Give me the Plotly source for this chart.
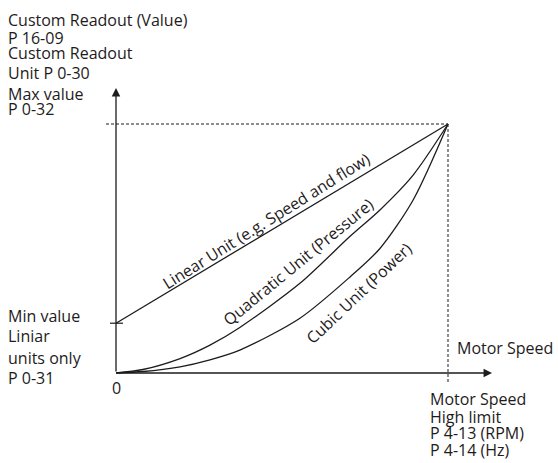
import plotly.graph_objects as go

W, H = 558, 463
# pixel frame of the diagram (origin and the max point)
X0, Y0, X1, Y1 = 116, 373, 448, 124

# ---- data (normalised speed -> normalised readout) ----
linear_x = [0.0, 1.0]
linear_y = [0.2, 1.0]

speed = [0.0, 0.081, 0.193, 0.283, 0.373, 0.554, 0.705, 0.795, 0.895, 1.0]
quadratic = [0.0, 0.014, 0.058, 0.112, 0.183, 0.360, 0.549, 0.655, 0.795, 1.0]
cubic = [0.0, 0.006, 0.025, 0.053, 0.092, 0.220, 0.386, 0.500, 0.695, 1.0]

curve_labels = ["Linear Unit (e.g. Speed and flow)", "Quadratic Unit (Pressure)", "Cubic Unit (Power)"]
top_left_lines = ["Custom Readout (Value)", "P 16-09", "Custom Readout", "Unit P 0-30", "Max value", "P 0-32"]
bottom_left_lines = ["Min value", "Liniar", "units only", "P 0-31"]
bottom_right_lines = ["Motor Speed", "High limit", "P 4-13 (RPM)", "P 4-14 (Hz)"]
x_axis_label = "Motor Speed"
origin_label = "0"

SX = X1 - X0
SY = Y0 - Y1


def dx(px):
    return (px - X0) / SX


def dy(py):
    return (Y0 - py) / SY


INK = "#1e1b1c"
FONT = "Open Sans"
FS = 16

fig = go.Figure()
fig.add_trace(go.Scatter(x=linear_x, y=linear_y, mode="lines", line=dict(color=INK, width=1.3), hoverinfo="skip"))
fig.add_trace(go.Scatter(x=speed, y=quadratic, mode="lines", line=dict(color=INK, width=1.3, shape="spline", smoothing=0.8), hoverinfo="skip"))
fig.add_trace(go.Scatter(x=speed, y=cubic, mode="lines", line=dict(color=INK, width=1.3, shape="spline", smoothing=0.8), hoverinfo="skip"))

shapes = [
    dict(type="line", xref="x", yref="y", x0=dx(106), x1=1, y0=1, y1=1,
         line=dict(color=INK, width=1, dash="3px,2px")),
    dict(type="line", xref="x", yref="y", x0=1, x1=1, y0=1, y1=dy(384),
         line=dict(color=INK, width=1, dash="3px,2px")),
    dict(type="line", xref="x", yref="y", x0=dx(110), x1=dx(123), y0=linear_y[0], y1=linear_y[0],
         line=dict(color=INK, width=1.2)),
]

ann = []
# axes arrows
ann.append(dict(x=0, y=dy(88), ax=0, ay=0, xref="x", yref="y", axref="x", ayref="y",
                showarrow=True, arrowhead=2, arrowsize=1.3, arrowwidth=1.3, arrowcolor=INK, text="", standoff=0))
ann.append(dict(x=dx(492), y=0, ax=0, ay=0, xref="x", yref="y", axref="x", ayref="y",
                showarrow=True, arrowhead=2, arrowsize=1.3, arrowwidth=1.3, arrowcolor=INK, text="", standoff=0))


def txt(s, px, py, xanchor="left", angle=0):
    ann.append(dict(text=s, x=dx(px), y=dy(py), xref="x", yref="y", showarrow=False,
                    xanchor=xanchor, yanchor="middle", textangle=angle, borderpad=0,
                    font=dict(family=FONT, size=FS, color=INK)))


for s, cy in zip(top_left_lines, [20, 38, 53, 73, 94, 109]):
    txt(s, 7, cy)
for s, cy in zip(bottom_left_lines, [316, 336, 358, 378]):
    txt(s, 7, cy)
for s, cy in zip(bottom_right_lines, [399, 417, 433, 450]):
    txt(s, 429, cy)
txt(x_axis_label, 456, 348)
txt(origin_label, 116.5, 388, xanchor="center")

txt(curve_labels[0], 266, 221, xanchor="center", angle=-32)
txt(curve_labels[1], 298, 262, xanchor="center", angle=-39.5)
txt(curve_labels[2], 359, 293, xanchor="center", angle=-43.5)

fig.update_layout(
    width=W, height=H,
    margin=dict(l=0, r=0, t=0, b=0),
    paper_bgcolor="white", plot_bgcolor="white",
    showlegend=False,
    xaxis=dict(range=[dx(0), dx(W)], visible=False, fixedrange=True),
    yaxis=dict(range=[dy(H), dy(0)], visible=False, fixedrange=True),
    shapes=shapes, annotations=ann,
)

fig.write_html("out.html", config={"displayModeBar": False},
               post_script="document.body.style.margin='0';document.body.style.overflow='hidden';")
